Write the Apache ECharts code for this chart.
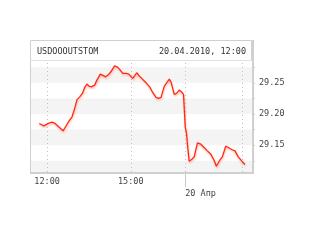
<!DOCTYPE html>
<html><head><meta charset="utf-8">
<script src="https://cdn.jsdelivr.net/npm/echarts@6/dist/echarts.min.js"></script>
<style>html,body{margin:0;padding:0;background:#fff}#c{width:320px;height:240px}</style>
</head><body><div id="c"></div>
<script>
var title = 'USDOOOUTSTOM';
var stamp = '20.04.2010, 12:00';
// x position in hours (overnight gap compressed), y = rate
var hours = [11.714,11.882,12.036,12.179,12.275,12.393,12.571,12.693,12.786,12.893,12.989,13.071,13.168,13.264,13.357,13.429,13.5,13.586,13.704,13.786,13.907,14.0,14.096,14.193,14.286,14.418,14.536,14.621,14.714,14.836,14.929,15.071,15.214,15.311,15.429,15.55,15.693,15.786,15.907,16.0,16.086,16.204,16.286,16.382,16.443,16.561,16.643,16.739,16.821,16.893,16.954,17.0,17.036,17.096,17.193,17.275,17.393,17.514,17.632,17.75,17.871,17.989,18.071,18.193,18.286,18.407,18.5,18.621,18.739,18.857,18.979,19.096];
var rates = [29.1848,29.181,29.185,29.187,29.185,29.1805,29.173,29.182,29.189,29.1955,29.209,29.223,29.2275,29.233,29.2436,29.248,29.2447,29.2436,29.2463,29.2543,29.264,29.2619,29.2596,29.2628,29.2677,29.2773,29.2747,29.2704,29.2651,29.2651,29.264,29.2571,29.2661,29.2608,29.2555,29.25,29.2426,29.2346,29.2266,29.225,29.2266,29.2447,29.25,29.2559,29.2516,29.2314,29.233,29.2383,29.2356,29.2314,29.1794,29.1688,29.15,29.1243,29.1275,29.1312,29.1537,29.1516,29.1463,29.1409,29.1356,29.1259,29.1163,29.1259,29.1312,29.1484,29.1463,29.1431,29.1409,29.1312,29.1248,29.119];
var xLabelPos = [12, 15];
var xLabelText = ['12:00', '15:00'];
var dayBreakPos = 16.954;
var dayBreakText = '20 Апр';
var vGridPos = [12, 15, 16.954, 19];
var yTickPos = [29.125, 29.15, 29.175, 29.2, 29.225, 29.25, 29.275];
var yLabelPos = [29.15, 29.2, 29.25];
var bandPairs = [[29.107, 29.125], [29.15, 29.175], [29.2, 29.225], [29.25, 29.275]];

var FONT = 'DejaVu Sans Mono';
var chart = echarts.init(document.getElementById('c'), null, {renderer: 'canvas'});
var data = hours.map(function (h, i) { return [h, rates[i]]; });
chart.setOption({
  animation: false,
  backgroundColor: '#fff',
  grid: {left: 31, top: 61, width: 221, height: 111, show: false},
  xAxis: [{
    type: 'value', min: 11.42, max: 19.35,
    axisLine: {show: false}, axisTick: {show: false}, splitLine: {show: false},
    axisLabel: {customValues: xLabelPos, margin: 5, color: '#444', fontFamily: FONT, fontSize: 8.5,
      formatter: function (v) { var i = xLabelPos.indexOf(v); return i >= 0 ? xLabelText[i] : ''; }}
  }, {
    type: 'value', min: 11.42, max: 19.35, position: 'bottom',
    axisLine: {show: false}, splitLine: {show: false},
    axisTick: {show: true, customValues: [dayBreakPos], length: 15, lineStyle: {color: '#c8c8c8', width: 1}},
    axisLabel: {customValues: [dayBreakPos], margin: 17, align: 'left', color: '#444', fontFamily: FONT, fontSize: 8.5,
      formatter: function () { return dayBreakText; }}
  }],
  yAxis: {
    type: 'value', min: 29.107, max: 29.285, position: 'right',
    axisLine: {show: false}, splitLine: {show: false},
    axisTick: {show: true, customValues: yTickPos, length: 3, lineStyle: {color: '#c8c8c8'}},
    axisLabel: {customValues: yLabelPos, margin: 7, color: '#444', fontFamily: FONT, fontSize: 8.5,
      padding: [4, 0, 0, 0],
      formatter: function (v) { return v.toFixed(2); }}
  },
  series: [{
    type: 'line', data: data, showSymbol: false, symbol: 'none',
    lineStyle: {color: '#ff2a10', width: 1.3, shadowColor: 'rgba(255,90,70,0.45)', shadowBlur: 2, shadowOffsetY: 1.5, shadowOffsetX: 0.5},
    markArea: {silent: true, itemStyle: {color: '#f4f4f4'},
      data: bandPairs.map(function (p) { return [{yAxis: p[0]}, {yAxis: p[1]}]; })},
    markLine: {silent: true, symbol: 'none', label: {show: false},
      lineStyle: {color: '#c0c0c0', type: [1, 3], width: 1},
      data: vGridPos.map(function (v) { return {xAxis: v}; })},
    z: 5
  }],
  graphic: [
    {type: 'rect', shape: {x: 30.5, y: 40.5, width: 221, height: 20}, style: {fill: '#fff', stroke: '#d0d0d0', lineWidth: 1}, z: 1},
    {type: 'text', left: 37, top: 47, style: {text: title, fill: '#333', font: '8.5px "DejaVu Sans Mono"'}, z: 10},
    {type: 'text', right: 74, top: 47, style: {text: stamp, fill: '#333', font: '8.5px "DejaVu Sans Mono"'}, z: 10},
    {type: 'line', shape: {x1: 30.5, y1: 60, x2: 30.5, y2: 173}, style: {stroke: '#d0d0d0', lineWidth: 1}, z: 10},
    {type: 'line', shape: {x1: 30, y1: 173, x2: 254, y2: 173}, style: {stroke: '#d0d0d0', lineWidth: 2}, z: 10},
    {type: 'line', shape: {x1: 253, y1: 40, x2: 253, y2: 174}, style: {stroke: '#d0d0d0', lineWidth: 2}, z: 10},
    {type: 'line', shape: {x1: 30, y1: 60.5, x2: 253, y2: 60.5}, style: {stroke: '#e0e0e0', lineWidth: 1}, z: 10}
  ]
});
</script></body></html>
